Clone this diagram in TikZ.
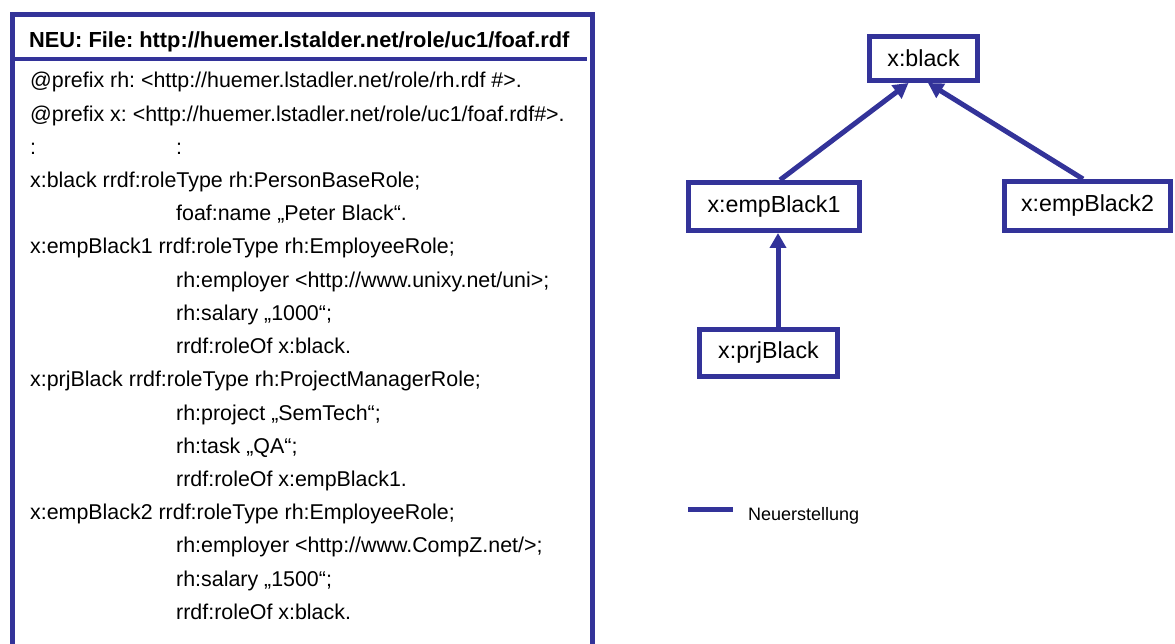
\documentclass[tikz,border=0pt]{standalone}
\usepackage{fontspec}
\setmainfont{Liberation Sans}
\usetikzlibrary{arrows.meta}
\definecolor{rblue}{RGB}{51,51,153}
\frenchspacing
\begin{document}
\begin{tikzpicture}[x=1pt,y=-1pt,
  frame/.style={draw=rblue,line width=5pt},
  bodytxt/.style={anchor=base west,inner sep=0pt,font=\fontsize{21.4pt}{26pt}\selectfont},
  headtxt/.style={anchor=base west,inner sep=0pt,font=\fontsize{21.8pt}{26pt}\selectfont\bfseries},
  rolebox/.style={draw=rblue,line width=5pt,inner sep=0pt,font=\fontsize{23.2pt}{28pt}\selectfont},
  conn/.style={draw=rblue,line width=5pt,-{Triangle[length=15pt,width=16pt]}},
  legtxt/.style={anchor=base west,inner sep=0pt,font=\fontsize{18pt}{22pt}\selectfont}]
\useasboundingbox (0,0) rectangle (1175,644);
\begin{scope}
\clip (0,0) rectangle (1175,644);
\draw[frame] (12.5,700) -- (12.5,14.5) -- (592.5,14.5) -- (592.5,700);
\draw[draw=rblue,line width=4pt] (12.5,59) -- (587,59);
\end{scope}
\node[headtxt] (head) at (29,48) {NEU: File: http://huemer.lstalder.net/role/uc1/foaf.rdf};
\def\bx{30}\def\ix{176}
\node[bodytxt] (l1) at (\bx,88) {@prefix rh: <http://huemer.lstadler.net/role/rh.rdf \#>.};
\node[bodytxt] (l2) at (\bx,121.2) {@prefix x: <http://huemer.lstadler.net/role/uc1/foaf.rdf\#>.};
\node[bodytxt] (l3a) at (\bx,154.4) {:};
\node[bodytxt] (l3b) at (\ix,154.4) {:};
\node[bodytxt] (l4) at (\bx,187.6) {x:black rrdf:roleType rh:PersonBaseRole;};
\node[bodytxt] (l5) at (\ix,220.8) {foaf:name „Peter Black“.};
\node[bodytxt] (l6) at (\bx,254) {x:empBlack1 rrdf:roleType rh:EmployeeRole;};
\node[bodytxt] (l7) at (\ix,287.2) {rh:employer <http://www.unixy.net/uni>;};
\node[bodytxt] (l8) at (\ix,320.4) {rh:salary „1000“;};
\node[bodytxt] (l9) at (\ix,353.6) {rrdf:roleOf x:black.};
\node[bodytxt] (l10) at (\bx,386.8) {x:prjBlack rrdf:roleType rh:ProjectManagerRole;};
\node[bodytxt] (l11) at (\ix,420) {rh:project „SemTech“;};
\node[bodytxt] (l12) at (\ix,453.2) {rh:task „QA“;};
\node[bodytxt] (l13) at (\ix,486.4) {rrdf:roleOf x:empBlack1.};
\node[bodytxt] (l14) at (\bx,519.6) {x:empBlack2 rrdf:roleType rh:EmployeeRole;};
\node[bodytxt] (l15) at (\ix,552.8) {rh:employer <http://www.CompZ.net/>;};
\node[bodytxt] (l16) at (\ix,586) {rh:salary „1500“;};
\node[bodytxt] (l17) at (\ix,619.2) {rrdf:roleOf x:black.};
% graph
\node[rolebox,minimum width=108pt,minimum height=44pt] (black) at (923.5,58.5) {x:black};
\node[rolebox,minimum width=171pt,minimum height=48pt] (emp1) at (774,206.5) {x:empBlack1};
\node[rolebox,minimum width=166pt,minimum height=49pt] (emp2) at (1087.5,206) {x:empBlack2};
\node[rolebox,minimum width=138pt,minimum height=47pt] (prj) at (768.5,353) {x:prjBlack};
\draw[conn] ([xshift=6pt]emp1.north) -- ([xshift=-15pt]black.south);
\draw[conn] ([xshift=-4.5pt]emp2.north) -- ([xshift=4.5pt]black.south);
\draw[conn] ([xshift=9.5pt]prj.north) -- ([xshift=9.5pt]prj.north |- emp1.south);
% legend
\coordinate (lg1) at (688,509);
\coordinate (lg2) at (733,509);
\draw[draw=rblue,line width=5pt] (lg1) -- (lg2);
\node[legtxt] (legend) at (748,520) {Neuerstellung};
\end{tikzpicture}
\end{document}
